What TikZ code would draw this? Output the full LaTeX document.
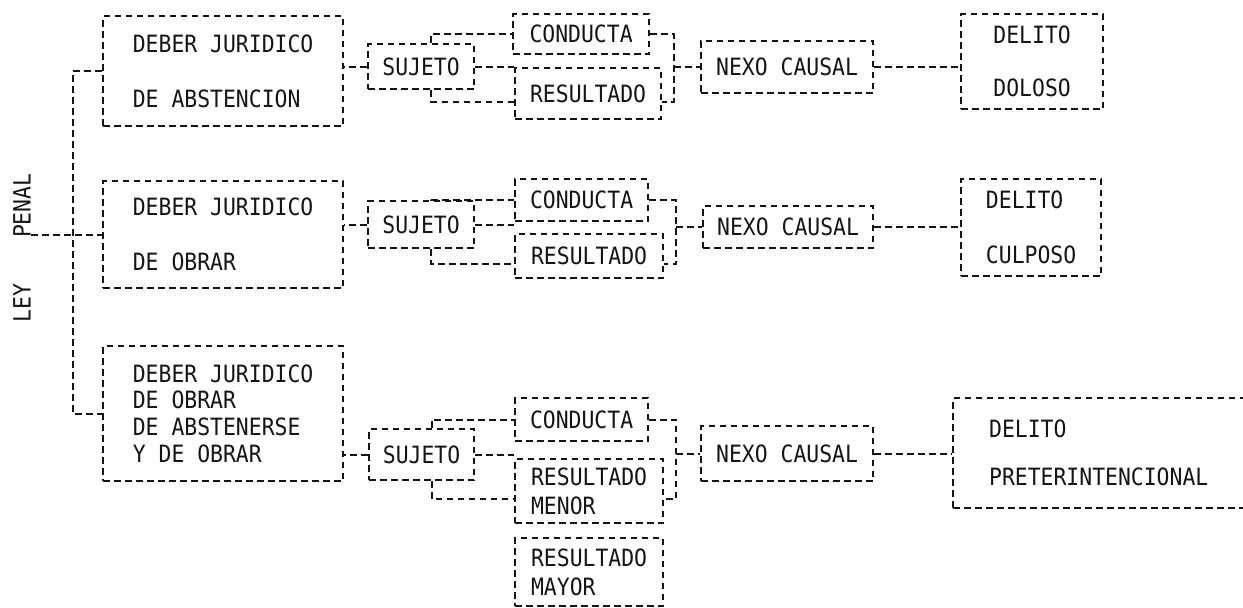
\documentclass[tikz,border=0pt]{standalone}
\usepackage{fontspec}
\setmonofont[FakeStretch=0.9]{DejaVu Sans Mono}
\usepackage{tikz}
\usetikzlibrary{positioning,calc}
\definecolor{ink}{HTML}{141414}
\tikzset{
  dashline/.style={draw=ink,line width=1.1pt,dash pattern=on 3.3pt off 2.2pt},
  box/.style={dashline,rectangle,inner sep=0pt,anchor=north west,align=left,text=ink,font=\ttfamily\fontsize{11.9}{13.4}\selectfont},
  lbl/.style={inner sep=0pt,text=ink,font=\ttfamily\fontsize{11.9}{13.4}\selectfont},
  link/.style={dashline},
}

\begin{document}
\begin{tikzpicture}[x=0.5pt,y=-0.5pt]
    \useasboundingbox (0,0) rectangle (1243,607);
    \clip (0,0) rectangle (1243,607);
    % left label
    \node[lbl,rotate=90] (ley) at (22,248) {LEY\hspace{23pt}PENAL};
    % first row
    \node[box,minimum width=120pt,minimum height=55pt] (deber1) at (102,15) {DEBER JURIDICO\\[14.1pt]DE ABSTENCION};
    \node[box,minimum width=53pt,minimum height=22.5pt] (sujeto1) at (367,43) {SUJETO};
    \node[box,minimum width=68pt,minimum height=20pt] (conducta1) at (512,13) {CONDUCTA};
    \node[box,minimum width=73pt,minimum height=25.5pt] (resultado1) at (514,67) {RESULTADO};
    \node[box,minimum width=86pt,minimum height=26pt] (nexo1) at (700,40) {NEXO CAUSAL};
    \node[box,minimum width=71pt,minimum height=47.5pt] (delito1) at (960,13) {DELITO\\[13.1pt]DOLOSO};
    % second row
    \node[box,minimum width=120pt,minimum height=53.5pt] (deber2) at (102,180) {DEBER JURIDICO\\[14.1pt]DE OBRAR};
    \node[box,minimum width=53pt,minimum height=23.5pt] (sujeto2) at (367,200) {SUJETO};
    \node[box,minimum width=66.5pt,minimum height=21pt] (conducta2) at (514,178) {CONDUCTA};
    \node[box,minimum width=74pt,minimum height=22pt] (resultado2) at (514,233) {RESULTADO};
    \node[box,minimum width=85pt,minimum height=21pt] (nexo2) at (702,205) {NEXO CAUSAL};
    \node[box,minimum width=70pt,minimum height=48.5pt] (delito2) at (960,178) {DELITO\\[14.1pt]CULPOSO};
    % third row
    \node[box,minimum width=120pt,minimum height=67.5pt] (deber3) at (102,345) {DEBER JURIDICO\\DE OBRAR\\DE ABSTENERSE\\Y DE OBRAR};
    \node[box,minimum width=52.5pt,minimum height=25.5pt] (sujeto3) at (368,428) {SUJETO};
    \node[box,minimum width=66.5pt,minimum height=21.5pt] (conducta3) at (514,397) {CONDUCTA};
    \node[box,minimum width=74pt,minimum height=32pt] (resultado3) at (514,458) {RESULTADO\\[1pt]MENOR};
    \node[box,minimum width=74pt,minimum height=34pt] (mayor) at (514,537) {RESULTADO\\[1pt]MAYOR};
    \node[box,minimum width=86pt,minimum height=27.5pt] (nexo3) at (700,425) {NEXO CAUSAL};
    \node[box,text width=150pt,inner xsep=18pt,minimum height=55pt] (delito3) at (952,397) {DELITO\\[10.6pt]PRETERINTENCIONAL};
    % bus
    \coordinate (bus) at (73,0);
    \draw[link] (deber1.west) -- (deber1.west -| bus) -- (deber3.west -| bus) -- (deber3.west);
    \draw[link] (ley.south |- deber2.west) -- (deber2.west);
    \foreach \i in {1,2,3} {
      \draw[link] (sujeto\i.west) -- (sujeto\i.west -| deber\i.east);
      \draw[link] ([xshift=5pt]sujeto\i.north) |- (conducta\i.west);
      \draw[link] (sujeto\i.east) -- (sujeto\i.east -| resultado\i.west);
      \draw[link] ([xshift=5pt]sujeto\i.south) |- ([yshift=-4pt]resultado\i.west);
      \coordinate (k\i) at ([xshift=6pt]resultado\i.east);
      \draw[link] (conducta\i.east) -| ([yshift=-4pt]k\i) -- ([yshift=-4pt]resultado\i.east);
      \draw[link] (k\i |- nexo\i.west) -- (nexo\i.west);
      \draw[link] (nexo\i.east) -- (nexo\i.east -| delito\i.west);
    }
  \end{tikzpicture}
\end{document}
